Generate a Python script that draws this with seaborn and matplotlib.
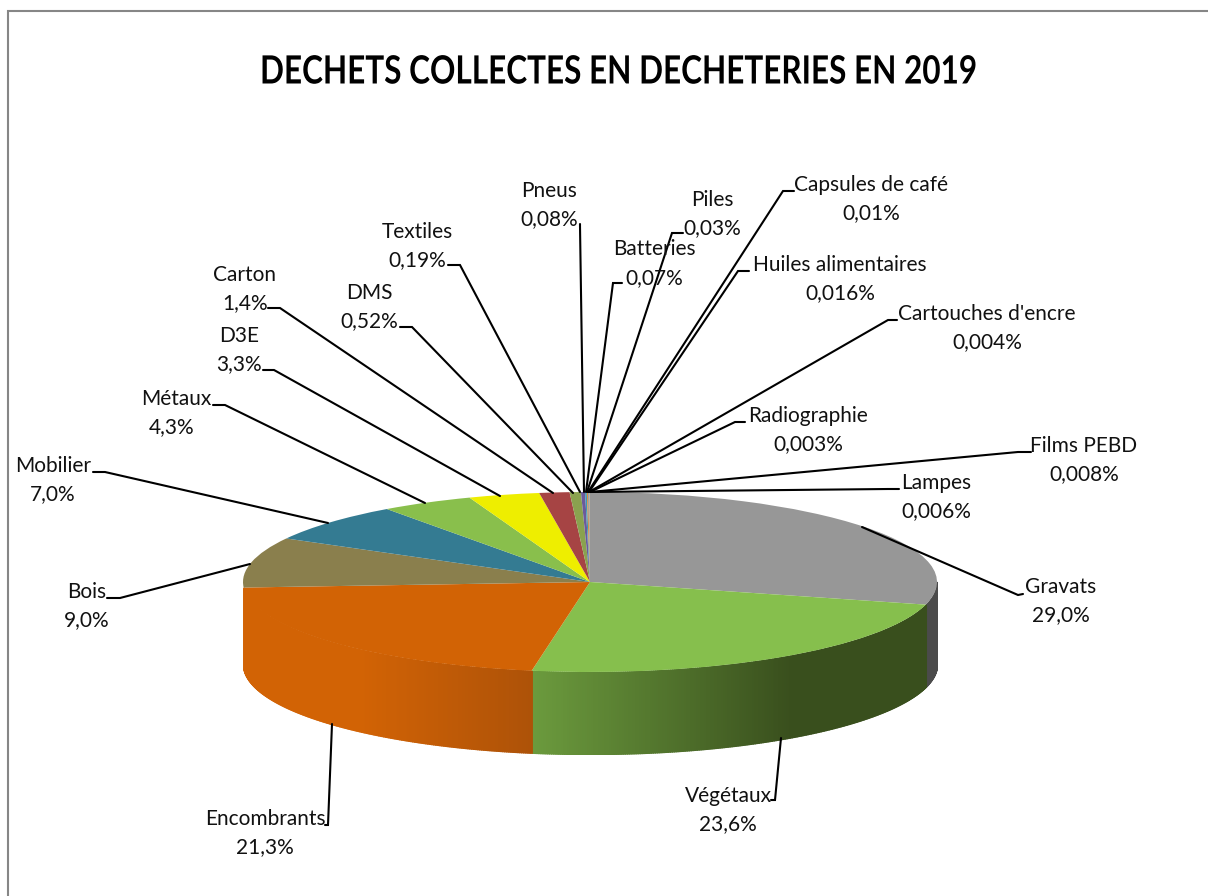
import numpy as np
import matplotlib
matplotlib.use("Agg")
import matplotlib.pyplot as plt
from matplotlib.colors import to_rgb
from matplotlib.patheffects import AbstractPathEffect
from matplotlib.transforms import Affine2D
import seaborn as sns

sns.set_theme(style="white")
plt.rcParams['font.family'] = ['Lato', 'DejaVu Sans']

# ---- data ----
categories = ["Gravats", "Végétaux", "Encombrants", "Bois", "Mobilier", "Métaux", "D3E", "Carton",
              "DMS", "Textiles", "Pneus", "Batteries", "Piles", "Capsules de café",
              "Huiles alimentaires", "Cartouches d'encre", "Radiographie", "Films PEBD", "Lampes"]
values = [29.0, 23.6, 21.3, 9.0, 7.0, 4.3, 3.3, 1.4, 0.52, 0.19, 0.08, 0.07, 0.03,
          0.01, 0.016, 0.004, 0.003, 0.008, 0.006]
value_labels = ["29,0%", "23,6%", "21,3%", "9,0%", "7,0%", "4,3%", "3,3%", "1,4%", "0,52%", "0,19%",
                "0,08%", "0,07%", "0,03%", "0,01%", "0,016%", "0,004%", "0,003%", "0,008%", "0,006%"]
colors = ["#979797", "#86bf4d", "#d26305", "#8a7f4d", "#347b92", "#89bf4c", "#eeee00", "#a64444",
          "#8aa24f", "#6b5a9b", "#3c97b3", "#d98a3c", "#4f81bd", "#c0504d", "#9bbb59", "#8064a2",
          "#4bacc6", "#f79646", "#7f7f7f"]

# ---- layout (pixels of the 1208x896 canvas) ----
W, H = 1208, 896
CX, CY, RX, RY, DEPTH = 590, 582, 347, 90, 82

label_xy = [(1061, 587), (728, 796), (265, 819), (87, 592), (53, 466), (176, 399), (239, 336),
            (245, 275), (369, 293), (417, 232), (549, 191), (654, 249), (712, 200), (871, 185),
            (840, 265), (987, 314), (808, 416), (1084, 446), (936, 483)]
value_xy = [(1061, 615), (728, 824), (265, 847), (87, 620), (53, 494), (172, 427), (239, 364),
            (245, 303), (369, 321), (417, 260), (549, 219), (654, 278), (712, 228), (871, 213),
            (840, 293), (987, 342), (808, 444), (1084, 474), (936, 511)]
leaders = [[(862, 527), (1018, 595), (1023, 594)], [(781, 738), (775, 800), (771, 800)],
           [(332, 724), (328, 825), (325, 825)], [(250, 564), (120, 598), (107, 598)],
           [(328, 523), (105, 472), (93, 472)], [(425, 503), (225, 405), (213, 405)],
           [(500, 496), (274, 370), (263, 370)], [(553, 493), (280, 308), (268, 308)],
           [(573, 493), (412, 327), (400, 327)], [(580, 492), (460, 265), (448, 265)],
           [(584, 492), (580, 226), (580, 224)], [(586, 492), (613, 283), (622, 283)],
           [(587, 492), (672, 233), (683, 233)], [(588, 492), (783, 191), (794, 191)],
           [(589, 492), (738, 271), (749, 271)], [(589, 492), (888, 320), (897, 320)],
           [(590, 492), (735, 422), (745, 422)], [(590, 492), (1018, 452), (1031, 452)],
           [(590, 492), (888, 489), (899, 489)]]

fig = plt.figure(figsize=(W / 100, H / 100), dpi=100, facecolor="white")

# pie axes: one data unit = RX px horizontally, RY px vertically
top, bottom = CY - RY, CY + RY + DEPTH
ax = fig.add_axes([(CX - RX) / W, 1 - bottom / H, 2 * RX / W, (bottom - top) / H])
ax.pie(values, colors=colors, startangle=90, counterclock=False, radius=1,
       wedgeprops=dict(linewidth=0), normalize=True)
ax.set_aspect("auto")
depth_u = DEPTH / RY
ax.set_xlim(-1, 1)
ax.set_ylim(-1 - depth_u, 1)
ax.axis("off")


# side wall: shaded strips, from the data's slice angles
def lerp(c1, c2, t):
    c1, c2 = np.array(to_rgb(c1)), np.array(to_rgb(c2))
    return c1 + (c2 - c1) * float(np.clip(t, 0, 1))


def wall_colour(i, xu):
    xp = CX + RX * xu
    if i == 0:
        return to_rgb("#4b4b4b")
    if i == 1:
        return lerp("#6b9a3d", "#394f1d", (xp - 533) / (790 - 533))
    if xp < 360:
        return to_rgb("#d26305")
    return lerp("#d26305", "#ad5208", (xp - 360) / (533 - 360))


fractions = np.array(values) / np.sum(values)
edges = np.concatenate([[0], np.cumsum(fractions)]) * 2 * np.pi
for i in range(3):
    a0, a1 = max(edges[i], np.pi / 2), min(edges[i + 1], 3 * np.pi / 2)
    n = max(int((a1 - a0) * 160), 2)
    th = np.linspace(a0, a1, n + 1)
    for t0, t1 in zip(th[:-1], th[1:]):
        seg = np.array([t0, t1])
        xs, ys = np.sin(seg), np.cos(seg)
        c = wall_colour(i, xs.mean())
        ax.fill_between(xs, ys, ys - depth_u, color=c, linewidth=1.0, edgecolor=c,
                        antialiased=False, zorder=0.5)


# condensed rendering of the real title text
class Condense(AbstractPathEffect):
    def __init__(self, sx):
        super().__init__()
        self.sx = sx

    def draw_path(self, renderer, gc, tpath, affine, rgbFace=None):
        renderer.draw_path(gc, tpath, Affine2D().scale(self.sx, 1) + affine, rgbFace)


# overlay in pixel coordinates for frame, leader lines and text
ov = fig.add_axes([0, 0, 1, 1], facecolor="none")
ov.set_xlim(0, W)
ov.set_ylim(H, 0)
ov.axis("off")

ov.plot([8, 8, W], [H, 11, 11], color="#868686", lw=1.5, solid_joinstyle="miter")
ov.text(260, 72, "DECHETS COLLECTES EN DECHETERIES EN 2019", ha="left", va="center",
        fontsize=28, fontweight="bold", color="black", path_effects=[Condense(0.81)])

for name, val, lp, vp, pts in zip(categories, value_labels, label_xy, value_xy, leaders):
    xs, ys = zip(*pts)
    ov.plot(xs, ys, color="black", lw=1.5, solid_joinstyle="miter")
    ov.text(*lp, name, ha="center", va="center", fontsize=15, color="#111111")
    ov.text(*vp, val, ha="center", va="center", fontsize=15, color="#111111")

fig.savefig("out.png", dpi=100, facecolor="white")
